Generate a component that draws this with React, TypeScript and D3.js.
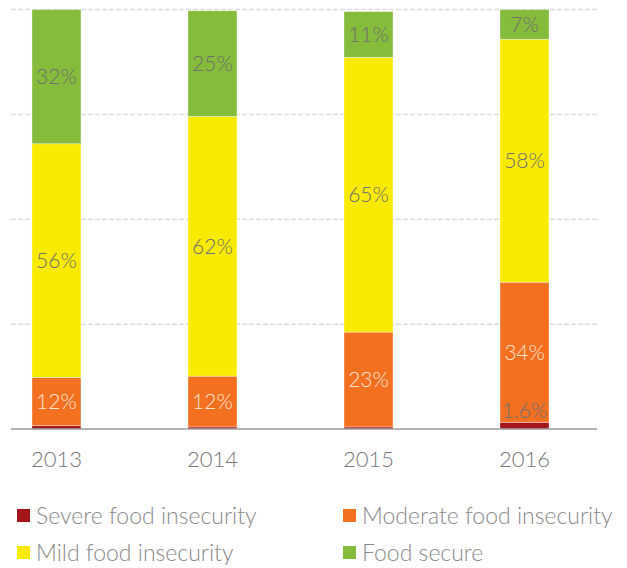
import React, { useEffect, useRef } from 'react';
import * as d3 from 'd3';

const years = ['2013', '2014', '2015', '2016'];
const severe = [0.8, 0.5, 0.5, 1.6];
const moderate = [11.5, 12.1, 22.6, 33.4];
const mild = [55.7, 61.9, 65.5, 57.9];
const secure = [32, 25.2, 10.9, 7.1];

const severeLabels = ['', '', '', '1.6%'];
const moderateLabels = ['12%', '12%', '23%', '34%'];
const mildLabels = ['56%', '62%', '65%', '58%'];
const secureLabels = ['32%', '25%', '11%', '7%'];

const seriesNames = ['Severe food insecurity', 'Moderate food insecurity', 'Mild food insecurity', 'Food secure'];
const colors = ['#a3151a', '#f37021', '#f8eb00', '#86bc3b'];
const labelColors = ['#707070', '#fde3d2', '#707070', '#707070'];
const yTicks = [0.25, 0.5, 0.75, 1];

const FONT = "Lato, sans-serif";

export default function App() {
  const svgRef = useRef<SVGSVGElement>(null);

  useEffect(() => {
    if (!svgRef.current) return;
    const svg = d3.select(svgRef.current);
    svg.selectAll('*').remove();

    const values = [severe, moderate, mild, secure];
    const labels = [severeLabels, moderateLabels, mildLabels, secureLabels];

    const x = d3.scaleBand()
      .domain(years)
      .range([11, 597])
      .paddingInner(0.686)
      .paddingOuter(0.221)
      .align(0.304);

    const y = d3.scaleLinear().domain([0, 100]).range([429, 9.5]);

    // gridlines
    svg.append('g')
      .selectAll('line')
      .data(yTicks)
      .join('line')
      .attr('x1', 11)
      .attr('x2', 597)
      .attr('y1', d => y(d * 100))
      .attr('y2', d => y(d * 100))
      .attr('stroke', '#dddddd')
      .attr('stroke-width', 1.5)
      .attr('stroke-dasharray', '5,2');

    // stacked segments
    const rows = years.map((yr, i) => {
      const r: any = { year: yr };
      values.forEach((v, k) => { r['s' + k] = v[i]; });
      return r;
    });
    const stack = d3.stack<any>().keys(['s0', 's1', 's2', 's3']);
    const stacked = stack(rows);

    stacked.forEach((layer, k) => {
      svg.append('g')
        .selectAll('rect')
        .data(layer)
        .join('rect')
        .attr('x', d => x(d.data.year) || 0)
        .attr('width', x.bandwidth())
        .attr('y', d => y(d[1]))
        .attr('height', d => y(d[0]) - y(d[1]))
        .attr('fill', colors[k])
        .attr('stroke', 'rgba(255,255,255,0.45)')
        .attr('stroke-width', 0.8);
    });

    // axis line
    svg.append('line')
      .attr('x1', 11)
      .attr('x2', 597)
      .attr('y1', y(0))
      .attr('y2', y(0))
      .attr('stroke', '#9a9a9a')
      .attr('stroke-width', 1.5);

    // value labels
    stacked.forEach((layer, k) => {
      svg.append('g')
        .selectAll('text')
        .data(layer)
        .join('text')
        .attr('x', d => (x(d.data.year) || 0) + x.bandwidth() / 2)
        .attr('y', d => k === 0 ? y(d[1]) - 12 : (y(d[0]) + y(d[1])) / 2)
        .attr('dy', '0.35em')
        .attr('text-anchor', 'middle')
        .attr('font-family', FONT)
        .attr('font-weight', 300)
        .attr('font-size', '21px')
        .attr('fill', labelColors[k])
        .text((d, i) => labels[k][i]);
    });

    // year labels
    svg.append('g')
      .selectAll('text')
      .data(years)
      .join('text')
      .attr('x', d => (x(d) || 0) + x.bandwidth() / 2)
      .attr('y', 459)
      .attr('dy', '0.35em')
      .attr('text-anchor', 'middle')
      .attr('font-family', FONT)
      .attr('font-weight', 300)
      .attr('font-size', '22px')
      .attr('fill', '#777777')
      .text(d => d);

    // legend
    const legend = svg.append('g')
      .selectAll('g')
      .data(seriesNames)
      .join('g')
      .attr('transform', (d, i) => `translate(${i % 2 === 0 ? 17 : 343},${i < 2 ? 516 : 553})`);

    legend.append('rect')
      .attr('x', 0)
      .attr('y', -7)
      .attr('width', 13)
      .attr('height', 13)
      .attr('fill', (d, i) => colors[i]);

    legend.append('text')
      .attr('x', 19)
      .attr('y', 0)
      .attr('dy', '0.35em')
      .attr('font-family', FONT)
      .attr('font-weight', 300)
      .attr('font-size', '23px')
      .attr('fill', '#8a8a8a')
      .text(d => d);
  }, []);

  return (
    <svg ref={svgRef} width={627} height={568} style={{ position: 'absolute', left: 0, top: 0, background: '#fff' }} />
  );
}
